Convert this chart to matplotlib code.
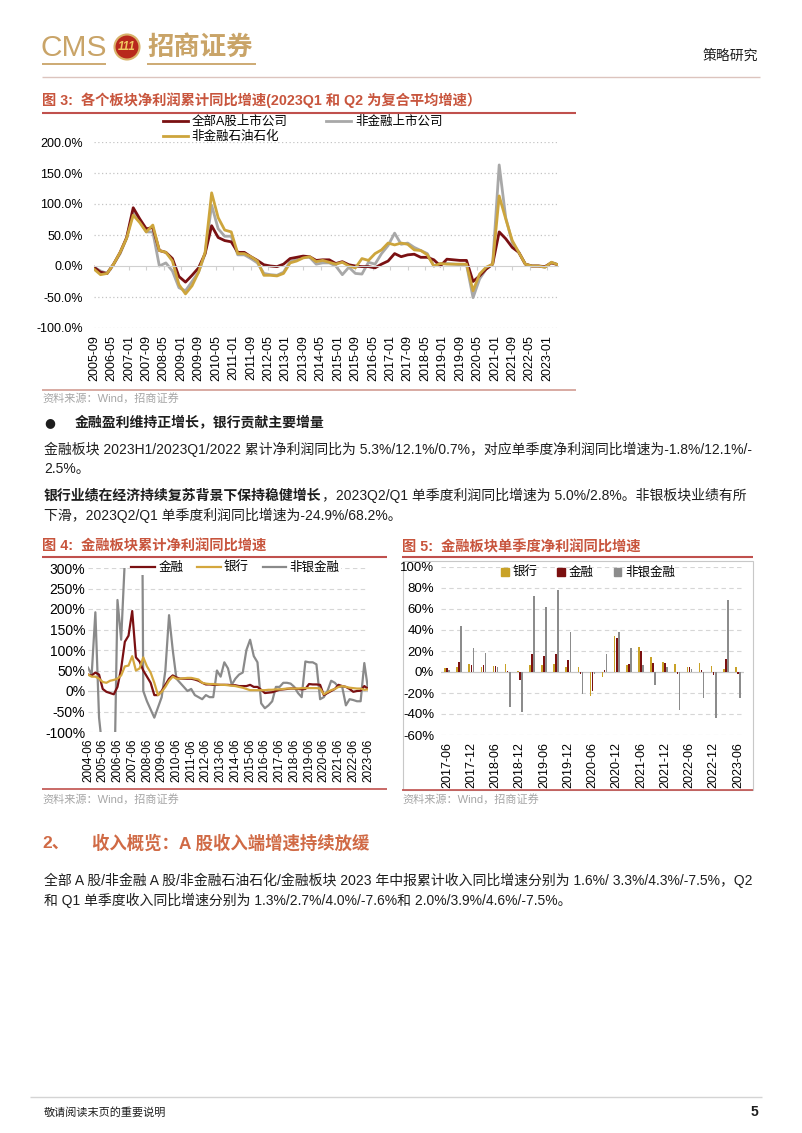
import numpy as np
import pandas as pd
import matplotlib
matplotlib.use("Agg")
import matplotlib.pyplot as plt
from matplotlib.patches import Patch, Circle, Rectangle

plt.rcParams['font.family'] = ['Liberation Sans', 'Noto Sans CJK SC']
plt.rcParams['axes.unicode_minus'] = False

# ---- 图3: quarterly, 2005-09 .. 2023-06 (%)
fig3_start = "2005-09"
all_a = [-2, -10, -12, 3, 22, 46, 94, 76, 60, 62, 25, 22, 12, -17, -26, -15, -3, 20,
         65, 46, 41, 39, 22, 22, 15, 9, 2, 0, -1, 3, 12, 14, 16, 15, 9, 10,
         10, 4, 7, 2, 0, -1, -1, -3, 3, 8, 20, 15, 18, 19, 14, 14, 10, 0,
         11, 10, 9, 9, -25, -16, -5, 3, 55, 44, 30, 22, 3, 0, 0, -1, 5, 2]
non_fin = [-2, -8, -12, 3, 20, 45, 88, 72, 55, 55, 0, 5, -8, -35, -40, -25, -10, 20,
           98, 60, 48, 48, 18, 18, 12, 5, -12, -14, -15, -10, 7, 10, 14, 14, 3, 5,
           5, 0, -14, -2, -12, -13, 6, 3, 20, 33, 53, 35, 37, 30, 25, 20, 0, 4,
           4, 3, 2, 2, -51, -21, -5, 3, 163, 78, 38, 22, 3, 0, 0, -2, 6, 2]
non_fin_ex_oil = [-5, -14, -12, 3, 22, 45, 82, 70, 55, 66, 25, 22, 8, -30, -45, -32, -10, 22,
                  118, 78, 58, 55, 20, 20, 15, 8, -15, -15, -16, -12, 5, 8, 13, 15, 7, 9,
                  6, 3, 6, 0, -3, 12, 9, 20, 26, 37, 34, 37, 35, 26, 25, 18, 0, 4,
                  3, 3, 3, 3, -40, -13, -2, 3, 113, 76, 41, 22, 3, 0, 0, -2, 6, 2]

# ---- 图4: quarterly cumulative, 2004-06 .. 2023-06 (%)
fig4_start = "2004-06"
fin_cum = [40, 38, 45, 40, 5, -2, -5, -8, 10, 55, 120, 135, 195, 82, 72, 50, 35, 20,
           -10, -10, 0, 15, 30, 38, 33, 30, 30, 30, 30, 28, 25, 20, 16, 16, 15, 15,
           15, 15, 15, 14, 14, 12, 12, 12, 15, 10, 10, 3, -5, -4, -3, 0, 3, 4,
           5, 6, 6, 5, 4, 5, 17, 16, 16, 15, -10, -5, 0, 5, 15, 12, 10, 5,
           -2, 0, 0.7, 12.1, 5.3]
bank_cum = [40, 35, 35, 30, 22, 20, 25, 27, 30, 38, 60, 62, 85, 50, 55, 82, 60, 45,
            20, -10, -2, 10, 25, 35, 30, 30, 31, 32, 32, 30, 28, 20, 18, 17, 17, 16,
            15, 15, 14, 13, 12, 10, 8, 5, 2, 2, 2, 2, 2, 3, 3, 4, 4, 5,
            6, 6, 6, 6, 7, 7, 7, 7, 7, 6, -8, -3, 2, 5, 10, 12, 10, 8,
            7, 6, 6, 2.8, 4]
nonbank_cum = [57, 40, 192, -65, -150, -200, -250, -300, 222, 125, 320, 800, 600, 900, 1500, 0, -25, -45,
               -65, -40, -15, 50, 185, 100, 30, 20, 10, 0, 5, -10, -15, -20, -10, -15, -15, 50,
               35, 70, 55, 15, 30, 40, 45, 100, 125, 85, 70, -30, -42, -35, -25, 10, 10, 20,
               20, 18, 10, -5, -15, 72, 70, 70, 65, -20, -15, 0, 25, 20, 10, 10, -35, -20,
               -22, -25, -25, 68.2, 5]

# ---- 图5: single quarter, 2017-06 .. 2023-06 (%)
fig5_start = "2017-06"
bank_q = [4, 5, 8, 5, 6, 8, 1, 7, 7, 8, 5, 5, -23, -5, 34, 7, 24, 14, 10, 8, 5, 9, 6, 2.8, 5.0]
fin_q = [4, 10, 7, 7, 6, 1, -8, 17, 15, 17, 11, -2, -18, 2, 32, 8, 20, 9, 9, -2, 5, 2, -2.5, 12.1, -1.8]
nonbank_q = [2, 44, 23, 18, 5, -33, -38, 72, 62, 78, 38, -21, -2, 17, 38, 23, 7, -12, 5, -36, 3, -25, -44, 68.2, -24.9]

RED = "#7A1012"
GOLD = "#CDA53C"
GRAY = "#A8A8A8"
GRAY2 = "#8A8A8A"
TITLE = "#C8553D"
LINE_RED = "#C0504D"
TEXT = "#1E1E1E"
SRC = "#A6A6A6"
LOGO = "#C9A468"

W, H = 802, 1133
fig = plt.figure(figsize=(W / 100, H / 100), dpi=100)
page = fig.add_axes([0, 0, 1, 1])
page.set_xlim(0, W)
page.set_ylim(H, 0)
page.axis("off")
renderer = fig.canvas.get_renderer()


def rect(l, t, r, b):
    return [l / W, 1 - b / H, (r - l) / W, (b - t) / H]


def hline(y, x0, x1, color, lw=1.2):
    page.plot([x0, x1], [y, y], color=color, lw=lw, solid_capstyle="butt")


def runs(x, y, parts, size=10):
    for s, w in parts:
        t = page.text(x, y, s, fontsize=size, fontweight=w, va="center", ha="left", color=TEXT)
        x += t.get_window_extent(renderer).width


# header
page.text(41, 48, "CMS", fontsize=21.5, color=LOGO, va="center", ha="left")
page.add_patch(Circle((127, 47), 12.5, fc="#B8281C", ec="#D9B36B", lw=1.5))
page.text(127, 47, "111", fontsize=8.5, color="#F0C860", fontweight="bold", style="italic",
          va="center", ha="center")
page.text(147, 47, "招商证券", fontsize=19, color=LOGO, fontweight="bold", va="center", ha="left")
hline(64, 42, 106, LOGO, 1.3)
hline(64, 147, 256, LOGO, 1.3)
page.text(758, 56, "策略研究", fontsize=10, color=TEXT, va="center", ha="right")
hline(77, 42, 760, "#DCC4BE", 1.0)

# ================= 图3 =================
page.text(42, 100, "图 3:  各个板块净利润累计同比增速(2023Q1 和 Q2 为复合平均增速）",
          fontsize=10.3, color=TITLE, fontweight="bold", va="center")
hline(113, 42, 576, LINE_RED, 1.5)
hline(390, 42, 576, "#D29C92", 1.2)
page.text(42, 398, "资料来源：Wind，招商证券", fontsize=8, color=SRC, va="center")

ax3 = fig.add_axes(rect(94, 142, 558, 328))
x3 = np.arange(len(all_a)) * 3
l_gray, = ax3.plot(x3, non_fin, color=GRAY, lw=2.0, label="非金融上市公司")
l_red, = ax3.plot(x3, all_a, color=RED, lw=2.0, label="全部A股上市公司")
l_gold, = ax3.plot(x3, non_fin_ex_oil, color=GOLD, lw=2.0, label="非金融石油石化")
ax3.set_xlim(0, 213)
ax3.set_ylim(-100, 200)
yt3 = np.arange(-100, 201, 50)
ax3.set_yticks(yt3, [f"{v:.1f}%" for v in yt3])
for v in yt3:
    if v != 0:
        ax3.axhline(v, ls=(0, (1, 2)), color="#C4C4C4", lw=0.9, zorder=0)
for s in ["top", "right", "left"]:
    ax3.spines[s].set_visible(False)
ax3.spines["bottom"].set_position(("data", 0))
ax3.spines["bottom"].set_color("#D0D0D0")
xt3 = np.arange(0, 209, 8)
p0 = pd.Period(fig3_start, "M")
ax3.set_xticks(xt3)
ax3.tick_params(axis="x", length=3, color="#D0D0D0", labelbottom=False)
ax3.tick_params(axis="y", length=0, labelsize=9, pad=8)
sec3 = ax3.secondary_xaxis(0)
sec3.set_xticks(xt3, [(p0 + int(k)).strftime("%Y-%m") for k in xt3], rotation=90, fontsize=9)
sec3.tick_params(length=0, pad=5)
sec3.spines["bottom"].set_visible(False)
ax3.legend(handles=[l_red, l_gold, l_gray], ncol=2, loc="upper left",
           bbox_to_anchor=(163, 116), bbox_transform=page.transData,
           frameon=False, fontsize=9, handlelength=2.0, handletextpad=0.3,
           columnspacing=3.1, labelspacing=0.2, borderpad=0, borderaxespad=0)

# ================= text block 1 =================
page.text(44, 423, "●", fontsize=9, color=TEXT, va="center", family="DejaVu Sans")
page.text(75, 423, "金融盈利维持正增长，银行贡献主要增量", fontsize=10, fontweight="bold",
          color=TEXT, va="center")
runs(44, 449, [("金融板块 2023H1/2023Q1/2022 累计净利润同比为 5.3%/12.1%/0.7%，对应单季度净利润同比增速为-1.8%/12.1%/-", "normal")])
runs(44, 469, [("2.5%。", "normal")])
runs(44, 495, [("银行业绩在经济持续复苏背景下保持稳健增长", "bold"),
               ("，2023Q2/Q1 单季度利润同比增速为 5.0%/2.8%。非银板块业绩有所", "normal")])
runs(44, 515, [("下滑，2023Q2/Q1 单季度利润同比增速为-24.9%/68.2%。", "normal")])

# ================= 图4 =================
page.text(42, 547, "图 4:  金融板块累计净利润同比增速", fontsize=10.3, color=TITLE,
          fontweight="bold", va="center")
hline(557, 42, 387, LINE_RED, 1.5)
hline(789, 42, 387, LINE_RED, 1.2)
page.text(42, 799, "资料来源：Wind，招商证券", fontsize=8, color=SRC, va="center")

ax4 = fig.add_axes(rect(88, 568, 368, 732))
x4 = np.arange(len(fin_cum))
g4, = ax4.plot(x4, nonbank_cum, color=GRAY2, lw=1.6, label="非银金融")
r4, = ax4.plot(x4, fin_cum, color=RED, lw=1.6, label="金融")
b4, = ax4.plot(x4, bank_cum, color="#D4A73E", lw=1.6, label="银行")
ax4.set_xlim(0, len(fin_cum) - 1)
ax4.set_ylim(-100, 300)
yt4 = np.arange(-100, 301, 50)
ax4.set_yticks(yt4, [f"{v}%" for v in yt4])
for v in yt4:
    if v != 0:
        ax4.axhline(v, ls=(0, (4, 3)), color="#D6D6D6", lw=0.8, zorder=0)
ax4.axhline(0, color="#C8C8C8", lw=0.9, zorder=0)
for s in ax4.spines.values():
    s.set_visible(False)
q4p = pd.Period(fig4_start, "Q")
xt4 = np.arange(0, len(fin_cum), 4)
ax4.set_xticks(xt4, [(q4p + int(k)).strftime("%Y-%m") for k in xt4], rotation=90)
ax4.tick_params(axis="x", length=0, labelsize=8.5, pad=5)
ax4.tick_params(axis="y", length=0, labelsize=10, pad=2)
ax4.legend(handles=[r4, b4, g4], ncol=3, loc="center left",
           bbox_to_anchor=(130, 568), bbox_transform=page.transData,
           frameon=True, facecolor="white", edgecolor="none", framealpha=1,
           fontsize=9, handlelength=1.9, handletextpad=0.25, columnspacing=1.1,
           borderpad=0.1, borderaxespad=0)

# ================= 图5 =================
page.text(402, 547, "图 5:  金融板块单季度净利润同比增速", fontsize=10.3, color=TITLE,
          fontweight="bold", va="center")
hline(557, 402, 753, LINE_RED, 1.5)
hline(790, 402, 753, LINE_RED, 1.2)
page.add_patch(Rectangle((403, 561), 350, 229, fill=False, ec="#C8C8C8", lw=0.8))
page.text(402, 799, "资料来源：Wind，招商证券", fontsize=8, color=SRC, va="center")

ax5 = fig.add_axes(rect(441, 567, 744, 735))
x5 = np.arange(len(bank_q))
bw = 0.13
ax5.bar(x5 - 0.17, bank_q, width=bw, color="#C9A227", label="银行", zorder=2)
ax5.bar(x5, fin_q, width=bw, color="#7B1010", label="金融", zorder=2)
ax5.bar(x5 + 0.17, nonbank_q, width=bw, color="#8C8C8C", label="非银金融", zorder=2)
ax5.set_xlim(-0.5, len(bank_q) - 0.5)
ax5.set_ylim(-60, 100)
yt5 = np.arange(-60, 101, 20)
ax5.set_yticks(yt5, [f"{v}%" for v in yt5])
for v in yt5:
    if v != 0:
        ax5.axhline(v, ls=(0, (4, 3)), color="#D6D6D6", lw=0.8, zorder=0)
ax5.axhline(0, color="#C8C8C8", lw=0.9, zorder=1)
for s in ax5.spines.values():
    s.set_visible(False)
q5p = pd.Period(fig5_start, "Q")
xt5 = np.arange(0, len(bank_q), 2)
ax5.set_xticks(xt5, [(q5p + int(k)).strftime("%Y-%m") for k in xt5], rotation=90)
ax5.tick_params(axis="x", length=0, labelsize=9, pad=5)
ax5.tick_params(axis="y", length=0, labelsize=9.5, pad=5)
ax5.legend(handles=[Patch(color="#C9A227", label="银行"), Patch(color="#7B1010", label="金融"),
                    Patch(color="#8C8C8C", label="非银金融")],
           ncol=3, loc="center", bbox_to_anchor=(588, 573), bbox_transform=page.transData,
           frameon=False, fontsize=9, handlelength=0.6, handleheight=0.6,
           handletextpad=0.3, columnspacing=1.6, borderpad=0, borderaxespad=0)

# ================= section 2 =================
page.text(42, 843, "2、", fontsize=12.5, color="#D06A45", fontweight="bold", va="center")
page.text(92, 843, "收入概览：A 股收入端增速持续放缓", fontsize=12.5, color="#D06A45",
          fontweight="bold", va="center")
runs(44, 880, [("全部 A 股/非金融 A 股/非金融石油石化/金融板块 2023 年中报累计收入同比增速分别为 1.6%/ 3.3%/4.3%/-7.5%，Q2", "normal")])
runs(44, 900, [("和 Q1 单季度收入同比增速分别为 1.3%/2.7%/4.0%/-7.6%和 2.0%/3.9%/4.6%/-7.5%。", "normal")])

# footer
hline(1097, 30, 762, "#D4D4D4", 1.0)
page.text(44, 1112, "敬请阅读末页的重要说明", fontsize=8, color=TEXT, va="center")
page.text(758, 1112, "5", fontsize=10, color=TEXT, fontweight="bold", va="center", ha="right")

fig.savefig("out.png", dpi=100)
